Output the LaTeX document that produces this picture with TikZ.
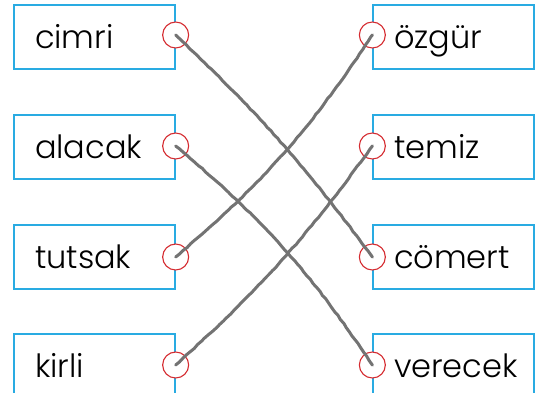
\documentclass[tikz,border=0pt]{standalone}
\usepackage{fontspec}
\setmainfont{Poppins}[UprightFont=* Light]
\usetikzlibrary{decorations.pathmorphing}
\definecolor{boxblue}{HTML}{29ABE2}
\definecolor{dotred}{HTML}{D52B30}
\definecolor{pencil}{HTML}{737373}

\begin{document}
\begin{tikzpicture}[x=1pt,y=-1pt,
  wordbox/.style={draw=boxblue,line width=1.3pt,minimum width=161pt,minimum height=64pt,
    text width=119pt,inner xsep=21pt,align=left,text height=23pt,text depth=1pt,
    font=\fontsize{32}{32}\selectfont},
  ring/.style={circle,draw=dotred,fill=white,line width=1.1pt,minimum size=26pt,inner sep=0pt},
  pencilline/.style={draw=pencil,line width=3pt,line cap=round,line join=round,
    decorate,decoration={random steps,segment length=5pt,amplitude=0.4pt}}]
\useasboundingbox (0,0) rectangle (549,392);
% left column
\draw (94.5,37) node[wordbox](cimri) {cimri};
\draw (94.5,147) node[wordbox](alacak) {alacak};
\draw (94.5,257) node[wordbox](tutsak) {tutsak};
\draw (94.5,366) node[wordbox](kirli) {kirli};
% right column
\draw (453.5,37) node[wordbox](ozgur) {özgür};
\draw (453.5,147) node[wordbox](temiz) {temiz};
\draw (453.5,257) node[wordbox](comert) {cömert};
\draw (453.5,366) node[wordbox](verecek) {verecek};
% dots
\node[ring] (cimri-dot) at ([yshift=2pt]cimri.east) {};
\node[ring] (alacak-dot) at ([yshift=1pt]alacak.east) {};
\node[ring] (tutsak-dot) at (tutsak.east) {};
\node[ring] (kirli-dot) at ([yshift=1pt]kirli.east) {};
\node[ring] (ozgur-dot) at ([yshift=2pt]ozgur.west) {};
\node[ring] (temiz-dot) at ([yshift=1pt]temiz.west) {};
\node[ring] (comert-dot) at (comert.west) {};
\node[ring] (verecek-dot) at ([yshift=1pt]verecek.west) {};
% answers
\draw[pencilline] (cimri-dot.center) to[bend left=5] (comert-dot.center);
\draw[pencilline] (alacak-dot.center) to[bend left=8] (verecek-dot.center);
\draw[pencilline] (tutsak-dot.center) to[bend right=8] (ozgur-dot.center);
\draw[pencilline] (kirli-dot.center) to[bend right=6] (temiz-dot.center);
\end{tikzpicture}
\end{document}
